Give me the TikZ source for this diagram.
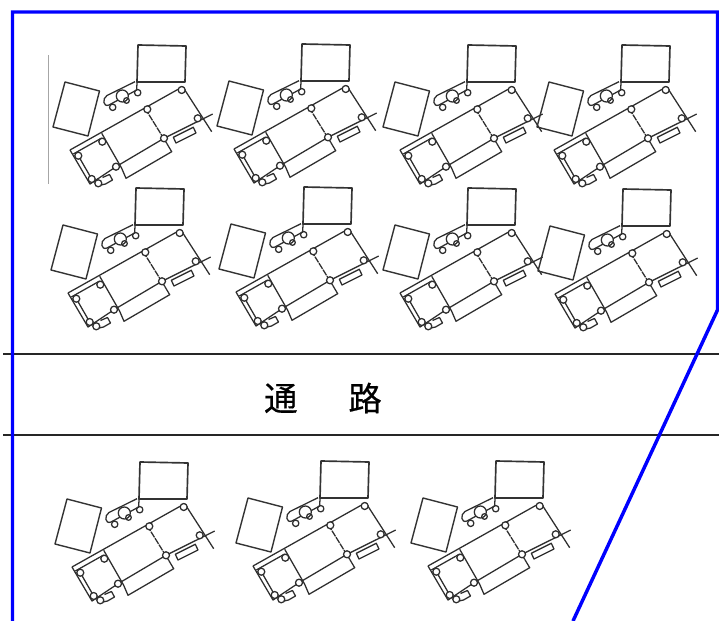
\documentclass[tikz,border=0pt]{standalone}
\usepackage{fontspec}
\newfontfamily\jpfont[FakeBold=0.5]{Noto Sans CJK JP}
\tikzset{
  x=0.75pt,y=-0.75pt,
  mach/.style={draw=black!80,line width=1.05pt,line join=round},
  thinpart/.style={draw=black!82,line width=0.95pt,line join=round},
  blk/.style={draw=black!85,line width=1.15pt},
  site/.style={draw=blue,line width=2.6pt,line join=miter},
  label/.style={font=\jpfont\fontsize{25}{25}\selectfont,text=black,inner sep=0pt},
  pics/bay/.style={code={
    % top box and left box
    \draw[mach,line width=1.25pt] (138,45) -- (186,46) -- (185,82) -- (137,82) -- cycle;
    \draw[mach] (65,82) -- (99.5,91) -- (88,136) -- (53,127) -- cycle;
    % truck
    \draw[thinpart] (135,81.7) -- (107,95.5) .. controls (102,98.5) and (103,107.5) .. (109,105) -- (136.7,90) -- (137,82);
    \draw[thinpart,fill=white] (122.3,96) circle (6);
    \draw[thinpart] (137.7,92.7) circle (3.2) (112.7,107.3) circle (3.2) (126.5,100.5) circle (2.8);
    % main frame
    \draw[thinpart] (70,150) -- (182.7,86.7) -- (211.7,131.7);
    \draw[thinpart] (212.7,114) -- (164,138.3) -- (116,166.7) -- (90,184) -- (70,150);
    \draw[thinpart] (73.3,154) -- (101.7,138);
    \draw[thinpart] (78.3,155.7) -- (91.7,179);
    \draw[thinpart] (101.7,133.3) -- (121.7,168.3) -- (126,178.3) -- (171.7,151.7) -- (166.7,143.3);
    \draw[thinpart,dash pattern=on 5pt off 0.7pt] (145,108.3) -- (166.7,143.3);
    \draw[thinpart] (173.3,137.3) -- (193.3,127.3) -- (196,133) -- (176,143) -- cycle;
    % corner fittings
    \draw[thinpart,fill=white] (181.7,90) circle (3.5) (197.7,118.3) circle (3.5)
      (147.3,109.3) circle (3.5) (164,138.3) circle (3.5) (102.3,141.7) circle (3.5)
      (116,166.7) circle (3.5) (78.3,155.7) circle (3.5) (91.7,179) circle (3.5) (98.3,183.3) circle (3.5);
    \draw[thinpart] (102.5,177.5) -- (109.5,174.5) -- (112.5,180) -- (105.5,184) -- (101,185);
  }}
}
\begin{document}
\begin{tikzpicture}
\useasboundingbox (0,0) rectangle (719,621);
\clip (0,0) rectangle (719,621);
\fill[white] (0,0) rectangle (719,621);
\draw[draw=black!35,line width=0.5pt] (48,55) -- (48,184);
\foreach \dx/\dy in {0/0,164/-1,330/0,484/0,-2/143,166/142,330/143,485/144,2/417,183/416,358/416}
  \pic at (\dx,\dy) {bay};
\coordinate (roadWestA) at (3,354);
\coordinate (roadEastA) at (719,354);
\coordinate (roadWestB) at (3,435);
\coordinate (roadEastB) at (719,435);
\draw[blk] (roadWestA) -- (roadEastA);
\draw[blk] (roadWestB) -- (roadEastB);
\draw[site] (12.5,621) -- (12.5,12) -- (717.5,12) -- (717.5,310) -- (573,621);
\node[label] (road) at (323,398) {通\hspace{1.53em}路};
\end{tikzpicture}
\end{document}
